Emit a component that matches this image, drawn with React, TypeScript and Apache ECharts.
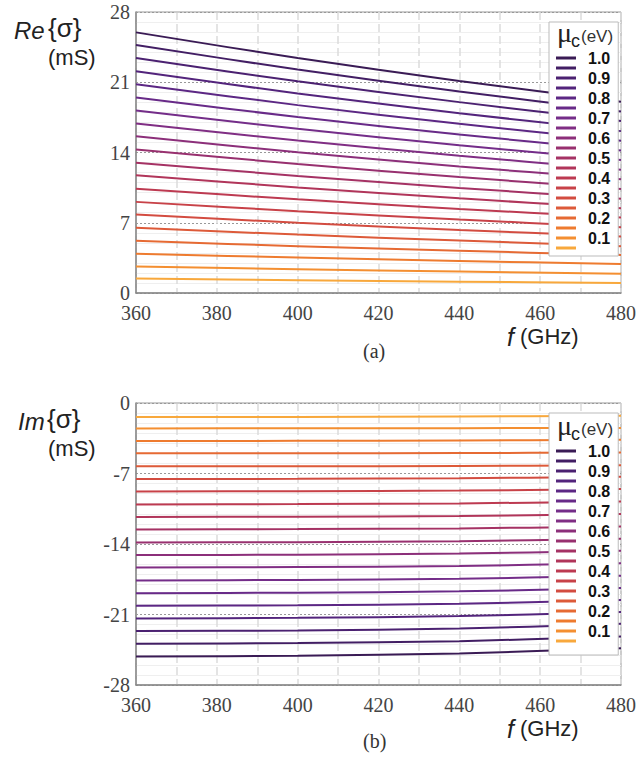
import React, { useEffect, useRef } from "react";
import * as echarts from "echarts";

const freqs = [360, 400, 440, 480];
const xTicks = [360, 380, 400, 420, 440, 460, 480];
const reTicks = [0, 7, 14, 21, 28];
const imTicks = [-28, -21, -14, -7, 0];

const muNames = ["1.0", "0.95", "0.9", "0.85", "0.8", "0.75", "0.7", "0.65", "0.6", "0.55", "0.5", "0.45", "0.4", "0.35", "0.3", "0.25", "0.2", "0.15", "0.1", "0.05"];
const muLabeled = ["1.0", "0.9", "0.8", "0.7", "0.6", "0.5", "0.4", "0.3", "0.2", "0.1"];

const muColors = [
  "#3a1b55", "#421e64", "#4b2171", "#53247c", "#5c2784", "#682a88", "#742d89", "#802e84", "#8c2f7a", "#98306f",
  "#a53264", "#b1355a", "#bd3a51", "#c84248", "#d34c40", "#dd5a39", "#e66a33", "#ee7b2f", "#f48f31", "#f8a83c",
];

// Re{sigma} (mS) at 360, 400, 440, 480 GHz, for mu_c = 1.0 ... 0.05
const reSigma = [
  [25.97, 23.41, 21.13, 19.05],
  [24.71, 22.26, 20.08, 18.09],
  [23.42, 21.09, 19.02, 17.13],
  [22.09, 19.88, 17.92, 16.13],
  [20.8, 18.72, 16.86, 15.17],
  [19.48, 17.53, 15.79, 14.21],
  [18.19, 16.36, 14.73, 13.25],
  [16.9, 15.19, 13.67, 12.29],
  [15.61, 14.03, 12.61, 11.33],
  [14.31, 12.85, 11.55, 10.37],
  [12.98, 11.66, 10.47, 9.4],
  [11.73, 10.52, 9.43, 8.45],
  [10.4, 9.33, 8.38, 7.52],
  [9.08, 8.15, 7.32, 6.56],
  [7.81, 7.0, 6.28, 5.63],
  [6.49, 5.82, 5.22, 4.67],
  [5.2, 4.67, 4.21, 3.78],
  [3.91, 3.53, 3.19, 2.88],
  [2.64, 2.37, 2.14, 1.92],
  [1.45, 1.28, 1.13, 0.99],
];

// Im{sigma} (mS) at 360, 400, 440, 480 GHz, for mu_c = 1.0 ... 0.05
const imSigma = [
  [-25.17, -25.09, -24.87, -24.34],
  [-23.91, -23.84, -23.65, -23.19],
  [-22.65, -22.58, -22.39, -21.93],
  [-21.4, -21.33, -21.16, -20.74],
  [-20.14, -20.08, -19.93, -19.55],
  [-18.88, -18.83, -18.7, -18.38],
  [-17.62, -17.57, -17.45, -17.16],
  [-16.33, -16.29, -16.18, -15.9],
  [-15.1, -15.06, -14.95, -14.68],
  [-13.85, -13.82, -13.72, -13.49],
  [-12.55, -12.52, -12.45, -12.26],
  [-11.32, -11.29, -11.22, -11.03],
  [-10.07, -10.04, -9.97, -9.78],
  [-8.78, -8.76, -8.7, -8.55],
  [-7.55, -7.53, -7.47, -7.33],
  [-6.29, -6.28, -6.25, -6.17],
  [-5.0, -4.99, -4.97, -4.92],
  [-3.77, -3.76, -3.73, -3.65],
  [-2.52, -2.51, -2.5, -2.47],
  [-1.39, -1.38, -1.35, -1.26],
];

const SERIF = "'Liberation Serif', 'Times New Roman', serif";
const SANS = "'Liberation Sans', Arial, sans-serif";

export default function App() {
  const ref = useRef<HTMLDivElement>(null);

  useEffect(() => {
    if (!ref.current) return;
    const chart = echarts.init(ref.current, undefined, { renderer: "svg" });

    const xAxisBase = (gridIndex: number) => ({
      type: "value",
      gridIndex,
      min: xTicks[0],
      max: xTicks[xTicks.length - 1],
      interval: 20,
      axisLine: { show: true, onZero: false, lineStyle: { color: "#888", width: 1.5 } },
      axisTick: { show: false },
      minorTick: { show: false, splitNumber: 2 },
      axisLabel: { color: "#444", fontFamily: SERIF, fontSize: 20, margin: 10 },
      splitLine: { show: true, lineStyle: { color: "#dcdcdc", width: 1.5, type: [8, 4] } },
      minorSplitLine: { show: true, lineStyle: { color: "#dcdcdc", width: 1.5, type: [8, 4] } },
    });

    const yAxisBase = (gridIndex: number, ticks: number[]) => ({
      type: "value",
      gridIndex,
      min: ticks[0],
      max: ticks[ticks.length - 1],
      interval: 7,
      axisLine: { show: true, lineStyle: { color: "#888", width: 1.5 } },
      axisTick: { show: false },
      minorTick: { show: false, splitNumber: 7 },
      axisLabel: { color: "#444", fontFamily: SERIF, fontSize: 20, margin: 6 },
      splitLine: { show: true, lineStyle: { color: "#999", width: 1, type: [2, 2] } },
      minorSplitLine: { show: true, lineStyle: { color: "#efefef", width: 1 } },
    });

    const legendBase = (top: number, padTop: number, padBottom: number) => ({
      orient: "vertical",
      left: 549,
      top,
      itemWidth: 20,
      itemHeight: 3,
      itemGap: -6,
      icon: "rect",
      padding: [padTop, 8, padBottom, 7],
      backgroundColor: "#fff",
      borderColor: "#bbb",
      borderWidth: 1,
      selectedMode: false,
      data: muNames,
      formatter: (name: string) => (muLabeled.indexOf(name) >= 0 ? name : " "),
      textStyle: {
        fontFamily: SANS,
        fontWeight: "bold",
        fontSize: 16,
        color: "#111",
        lineHeight: 16,
        padding: [0, 0, 0, 7],
      },
    });

    const series: any[] = [];
    muNames.forEach((name, i) => {
      series.push({
        name,
        type: "line",
        xAxisIndex: 0,
        yAxisIndex: 0,
        data: freqs.map((f, j) => [f, reSigma[i][j]]),
        smooth: 0.3,
        showSymbol: false,
        lineStyle: { width: 2, color: muColors[i] },
        itemStyle: { color: muColors[i] },
      });
      series.push({
        name,
        type: "line",
        xAxisIndex: 1,
        yAxisIndex: 1,
        data: freqs.map((f, j) => [f, imSigma[i][j]]),
        smooth: 0.3,
        showSymbol: false,
        lineStyle: { width: 2, color: muColors[i] },
        itemStyle: { color: muColors[i] },
      });
    });

    const legendTitle = (yc: number) => [
      { type: "text", z: 20, left: 557, top: yc - 19, style: { text: "μ", font: `28px ${SERIF}`, fill: "#222" } },
      { type: "text", z: 20, left: 571, top: yc - 5, style: { text: "c", font: `18px ${SANS}`, fill: "#222" } },
      { type: "text", z: 20, left: 581, top: yc - 9, style: { text: "(eV)", font: `17px ${SANS}`, fill: "#333" } },
    ];

    const axisTitle = (y: number, main: string, braceX: number, leftX: number) => [
      { type: "text", z: 20, left: leftX, top: y + 3, style: { text: main, font: `italic 24px ${SANS}`, fill: "#222" } },
      { type: "text", z: 20, left: braceX, top: y, style: { text: "{σ}", font: `26px ${SANS}`, fill: "#222" } },
      { type: "text", z: 20, left: 48, top: y + 31, style: { text: "(mS)", font: `22px ${SANS}`, fill: "#222" } },
    ];

    const fTitle = (y: number) => [
      { type: "text", z: 20, left: 507, top: y, style: { text: "f", font: `italic 25px ${SANS}`, fill: "#222" } },
      { type: "text", z: 20, left: 520, top: y + 1, style: { text: "(GHz)", font: `22px ${SANS}`, fill: "#222" } },
    ];

    chart.setOption({
      animation: false,
      backgroundColor: "#fff",
      grid: [
        { left: 136, top: 12, width: 491, height: 281, show: true, borderColor: "#999", borderWidth: 1, backgroundColor: "transparent" },
        { left: 136, top: 403, width: 491, height: 282, show: true, borderColor: "#999", borderWidth: 1, backgroundColor: "transparent" },
      ],
      xAxis: [xAxisBase(0), xAxisBase(1)],
      yAxis: [yAxisBase(0, reTicks), yAxisBase(1, imTicks)],
      legend: [legendBase(22, 28, 0), legendBase(413, 30, 6)],
      series,
      graphic: [
        ...axisTitle(15, "Re", 48, 14),
        ...axisTitle(406, "Im", 47, 18),
        ...fTitle(324),
        ...fTitle(716),
        { type: "text", z: 20, left: 363, top: 341, style: { text: "(a)", font: `20px ${SERIF}`, fill: "#333" } },
        { type: "text", z: 20, left: 363, top: 731, style: { text: "(b)", font: `20px ${SERIF}`, fill: "#333" } },
        ...legendTitle(37),
        ...legendTitle(430),
      ],
    });

    return () => chart.dispose();
  }, []);

  return (
    <div
      ref={ref}
      style={{ position: "absolute", left: 0, top: 0, width: 639, height: 760 }}
    />
  );
}
